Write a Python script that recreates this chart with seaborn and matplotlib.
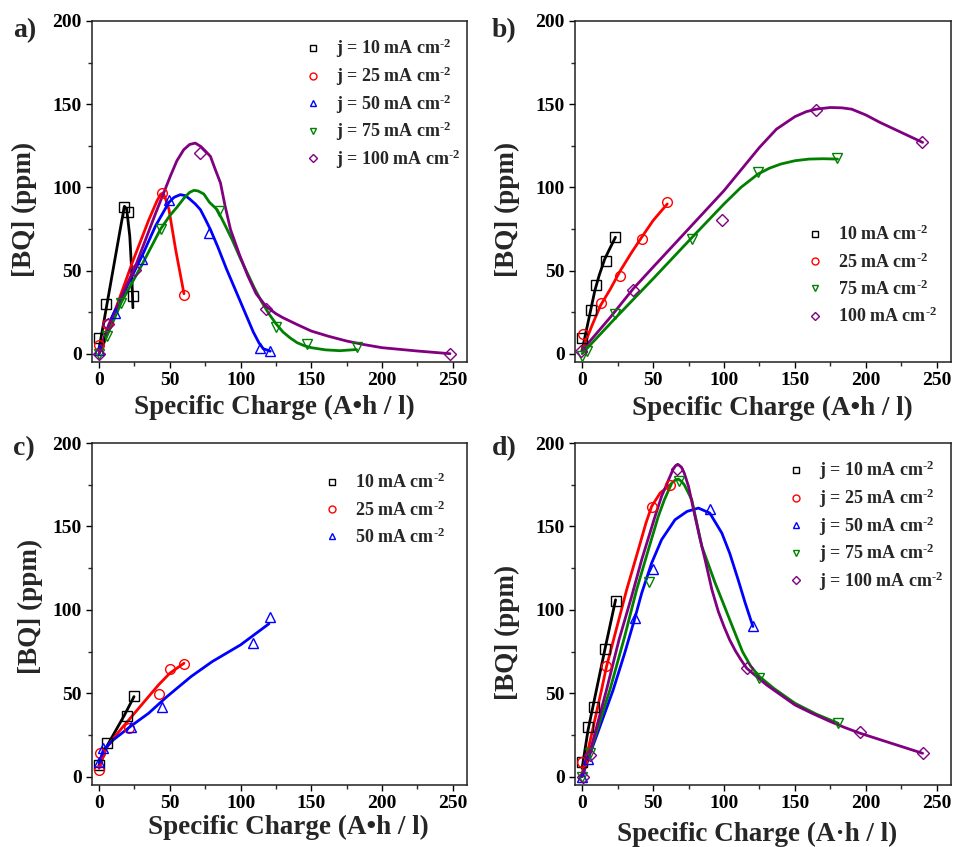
import matplotlib
matplotlib.use("Agg")
import matplotlib.pyplot as plt
from matplotlib.ticker import MultipleLocator
import seaborn as sns
import pandas as pd

# ---------------- data ----------------
# Panel a
A10_x = [0, 5.0, 17.5, 20.6, 23.9]
A10_y = [9.6, 29.6, 88, 85, 34.6]
A10_fx = [0, 5, 10, 15, 17.9, 19.5, 21.7, 23.0, 23.9]
A10_fy = [3, 27, 51, 75, 88.6, 87, 70.6, 50.6, 27.6]
A25_x = [0, 5.4, 44.7, 60]
A25_y = [5, 18, 96.5, 35]
A25_fx = [0, 11.6, 23.4, 35.2, 41, 43.5, 45.2, 47, 49.4, 54.1, 60]
A25_fy = [2, 26.6, 54.6, 80.6, 92, 95.8, 96.6, 93, 86.6, 62.6, 36]
A50_x = [0, 11.6, 30.5, 49.4, 77.8, 114, 120.7]
A50_y = [2, 24.2, 57, 92.6, 72.6, 3.2, 1.6]
A50_fx = [0, 11.6, 20, 30.5, 40, 49.4, 53, 57.4, 61, 64, 68, 71.6, 75, 78.7, 84, 90, 95, 100, 105, 109, 113, 116, 121]
A50_fy = [0, 24, 41, 59, 77, 91, 94, 95.6, 95, 93, 90, 86.6, 81, 74.6, 64, 51, 41, 31, 21, 13, 6.5, 3, 1.5]
A75_x = [0, 5.7, 15.8, 43.5, 84.6, 125, 146.7, 182]
A75_y = [0, 10.6, 30.6, 75, 86, 16, 5.6, 4]
A75_fx = [0, 5.7, 15.8, 30, 43.5, 50, 55, 60, 64, 67.1, 70, 74, 78, 83.4, 88, 94, 100, 105, 110, 115, 120, 125,
          130, 135, 140, 145, 150, 160, 170, 182]
A75_fy = [0, 11, 31, 53, 75, 83, 88, 93.5, 97, 98.2, 97.8, 96, 91, 86.6, 79, 68.6, 57, 48, 39, 31, 24, 18,
          13, 9.5, 6.6, 4.8, 3.6, 2.3, 1.8, 2.5]
A100_x = [0, 6.6, 25.5, 71.6, 118, 248]
A100_y = [0, 17.6, 50.6, 120.6, 26.6, 0]
A100_fx = [0, 6.6, 15, 25.7, 40, 50.3, 55, 59.8, 64, 68, 72, 75.5, 78.7, 82, 85.8, 89, 92.9, 99, 105, 111, 118,
           125, 130, 140, 150, 162, 175, 187, 200, 225, 248]
A100_fy = [0, 17, 33, 52.6, 84.5, 106.6, 116, 122.6, 125.8, 126.6, 124.5, 121.5, 118.6, 111, 102.6, 89, 74.6,
           60, 47, 36, 28.5, 24, 21.6, 17.5, 13.6, 10.5, 7.6, 5.5, 3.6, 1.6, 0]

# Panel b
B10_x = [0, 6.1, 9.6, 16.7, 23.5]
B10_y = [9.6, 26.2, 41, 56, 70.2]
B10_fx = [0, 3, 6, 9, 12, 16, 20, 23.5]
B10_fy = [2, 14, 26, 38, 47, 57, 64, 70]
B25_x = [0.5, 13.4, 26.6, 42.3, 60]
B25_y = [11.6, 30.6, 46.6, 69.2, 91]
B25_fx = [0, 7, 13, 20, 27, 35, 42, 50, 60]
B25_fy = [2, 17, 29, 39, 50, 61, 70, 80, 90]
B75_x = [0, 3.5, 23, 77.6, 124, 179.4]
B75_y = [-1.4, 1.6, 24, 69.2, 109, 117.6]
B75_fx = [0, 23, 50, 77.6, 100, 112, 124, 132, 140, 150, 160, 170, 180]
B75_fy = [0, 21, 45, 70, 90, 100, 108, 111.5, 114, 116, 117, 117.2, 117]
B100_x = [-1, 36, 98.8, 164.6, 239.9]
B100_y = [1.6, 38, 80.6, 146.6, 127]
B100_fx = [0, 20, 36, 50, 75, 100, 125, 137, 150, 158, 165, 175, 183, 190, 200, 210, 225, 240]
B100_fy = [2, 22, 39, 52, 75, 98, 124, 135, 142.5, 145.5, 147, 148, 147.8, 147, 143.5, 139, 133, 127]

# Panel c
C10_x = [0, 5.4, 19.5, 24.7]
C10_y = [7, 20.4, 36.4, 48.4]
C10_fx = [0, 6, 12, 18, 24.7]
C10_fy = [7, 19, 28, 37, 48]
C25_x = [0, 0.7, 21.2, 42.6, 50.1, 60.3]
C25_y = [4, 14.4, 29, 49.6, 64.8, 67.6]
C25_fx = [0, 5, 12, 21, 30, 42, 50, 60]
C25_fy = [5, 17, 25, 34, 43, 55, 62, 68]
C50_x = [0, 2.8, 22.4, 44.7, 109, 120.8]
C50_y = [9, 17, 30, 42, 80, 95.6]
C50_fx = [0, 3, 10, 22, 35, 48, 65, 80, 100, 120]
C50_fy = [8, 16, 22, 30, 38, 48, 60, 69, 79, 91.6]

# Panel d
D10_x = [0, 4.2, 8.5, 16, 23.6]
D10_y = [9, 29.6, 42, 76.4, 105.4]
D10_fx = [0, 4.2, 10.1, 16, 23.6]
D10_fy = [5, 28, 52, 76, 106]
D25_x = [0, 17.2, 49, 62]
D25_y = [9, 66.4, 161.6, 175]
D25_fx = [0, 5, 13.7, 17.2, 24, 31.4, 39.6, 45, 49, 55, 62]
D25_fy = [2, 19, 52, 66, 88, 112, 136, 152, 162, 170, 175]
D50_x = [0, 4.2, 37.2, 49.7, 90.2, 120.4]
D50_y = [0, 10.4, 95, 124.6, 160.4, 90.4]
D50_fx = [0, 4, 10, 21.9, 30, 37.2, 42, 49, 56, 65.5, 74, 82, 90, 98.5, 104, 110, 115, 120.4]
D50_fy = [0, 10, 24, 52, 74, 95, 110, 128, 142, 154, 159, 161, 158, 146, 134, 118, 104, 90]
D75_x = [0, 5.4, 47, 68.3, 125, 180.5]
D75_y = [0, 14, 116.4, 177.4, 59.4, 32]
D75_fx = [0, 5.4, 19.6, 30, 38.4, 46.7, 53.7, 58, 63.2, 66, 68, 70, 72, 77.3, 84.4, 93.8, 98.5, 105, 113, 119,
          125, 135, 150, 165, 180.5]
D75_fy = [0, 14, 52, 84, 112, 136, 156, 166, 176, 178, 178.3, 177, 175, 166, 138, 116, 106, 92, 75, 66,
          60, 53, 44, 37.5, 32]
D100_x = [0.7, 5.4, 67, 116, 195.8, 240.3]
D100_y = [0, 13, 184.4, 65, 26.6, 14.4]
D100_fx = [0, 5, 17.2, 26, 34.9, 42, 51.4, 56, 60, 64, 66, 67.9, 70, 72, 75, 79.6, 83, 86.7, 91.5, 96, 100, 104,
           108, 112, 116, 123, 130, 140, 150, 162, 175, 185, 196, 218, 240]
D100_fy = [0, 13, 52, 82, 108, 130, 156, 168, 176, 184, 186.5, 187, 185.5, 182, 174, 156, 143, 130, 112, 99, 90,
           82, 75.5, 70, 65, 60, 55, 49, 43, 38, 33, 29.5, 26, 20, 14]

COLORS = {"10": "#000000", "25": "#ff0000", "50": "#0000ff", "75": "#008000", "100": "#800080"}
MARKERS = {"10": "s", "25": "o", "50": "^", "75": "v", "100": "D"}

# ---------------- styling ----------------
sns.set_theme(style="ticks")
plt.rcParams.update({
    "font.family": ["Liberation Serif", "DejaVu Serif"],
    "font.weight": "bold",
    "axes.labelweight": "bold",
    "mathtext.fontset": "custom",
    "mathtext.rm": "Liberation Serif:bold",
    "mathtext.it": "Liberation Serif:bold:italic",
    "mathtext.bf": "Liberation Serif:bold",
    "axes.edgecolor": "#202020",
    "axes.linewidth": 1.1,
})

fig = plt.figure(figsize=(9.56, 8.47), dpi=100)
W, H = 956.0, 847.0

def axes_px(l, t, r, b):
    return fig.add_axes([l / W, 1 - b / H, (r - l) / W, (b - t) / H])

ax_a = axes_px(92, 21, 467, 362)
ax_b = axes_px(575, 21, 951, 362)
ax_c = axes_px(92, 443, 467, 785)
ax_d = axes_px(575, 443, 951, 785)

panels = {
    "a": (ax_a, [("10", A10_x, A10_y, A10_fx, A10_fy), ("25", A25_x, A25_y, A25_fx, A25_fy),
                 ("50", A50_x, A50_y, A50_fx, A50_fy), ("75", A75_x, A75_y, A75_fx, A75_fy),
                 ("100", A100_x, A100_y, A100_fx, A100_fy)]),
    "b": (ax_b, [("10", B10_x, B10_y, B10_fx, B10_fy), ("25", B25_x, B25_y, B25_fx, B25_fy),
                 ("75", B75_x, B75_y, B75_fx, B75_fy), ("100", B100_x, B100_y, B100_fx, B100_fy)]),
    "c": (ax_c, [("10", C10_x, C10_y, C10_fx, C10_fy), ("25", C25_x, C25_y, C25_fx, C25_fy),
                 ("50", C50_x, C50_y, C50_fx, C50_fy)]),
    "d": (ax_d, [("10", D10_x, D10_y, D10_fx, D10_fy), ("25", D25_x, D25_y, D25_fx, D25_fy),
                 ("50", D50_x, D50_y, D50_fx, D50_fy), ("75", D75_x, D75_y, D75_fx, D75_fy),
                 ("100", D100_x, D100_y, D100_fx, D100_fy)]),
}

with_j = {"a": True, "b": False, "c": False, "d": True}
legend_anchor = {"a": (304, 37), "b": (806, 225), "c": (323, 473), "d": (787, 459)}
legend_spacing = {"a": 0.23, "b": 0.43, "c": 0.43, "d": 0.23}
xlabels = {"a": "Specific Charge (A\u2022h / l)", "b": "Specific Charge (A\u2022h / l)",
           "c": "Specific Charge (A\u2022h / l)", "d": "Specific Charge (A\u00b7h / l)"}
xlabel_pos = {"a": (0.485, -0.097), "b": (0.525, -0.10), "c": (0.525, -0.088), "d": (0.484, -0.108)}
ylabel_pos = {"a": (-0.147, 0.446), "b": (-0.146, 0.446), "c": (-0.131, 0.523), "d": (-0.146, 0.447)}

for key, (ax, series) in panels.items():
    handles = []
    for name, px, py, fx, fy in series:
        col = COLORS[name]
        fit = pd.DataFrame({"x": fx, "y": fy})
        sns.lineplot(data=fit, x="x", y="y", ax=ax, color=col, lw=2.0,
                     sort=False, estimator=None, zorder=2)
        pts = pd.DataFrame({"x": px, "y": py})
        sns.lineplot(data=pts, x="x", y="y", ax=ax, linestyle="", marker=MARKERS[name],
                     markersize=7 if MARKERS[name] != "D" else 6,
                     markerfacecolor="none", markeredgecolor=col, markeredgewidth=1.0,
                     color=col, sort=False, estimator=None, zorder=3)
        lab = ("j = " if with_j[key] else "") + name + " mA cm" + "$^{\u2010 2}$"
        h = plt.Line2D([], [], linestyle="", marker=MARKERS[name],
                       markersize=5 if MARKERS[name] != "D" else 4.5,
                       markerfacecolor="none", markeredgecolor=col, markeredgewidth=1.0, label=lab)
        handles.append(h)

    ax.set_xlim(-5, 260)
    ax.set_ylim(-5, 200)
    ax.xaxis.set_major_locator(MultipleLocator(50))
    ax.xaxis.set_minor_locator(MultipleLocator(25))
    ax.yaxis.set_major_locator(MultipleLocator(50))
    ax.yaxis.set_minor_locator(MultipleLocator(25))
    ax.tick_params(which="major", direction="out", length=4.5, width=1.0, labelsize=14,
                   colors="black", pad=3)
    ax.tick_params(which="minor", direction="out", length=3.0, width=1.0)
    for lbl in ax.get_xticklabels() + ax.get_yticklabels():
        lbl.set_fontweight("bold")
    ax.set_xlabel(xlabels[key], fontsize=19.5, fontweight="bold")
    ax.set_ylabel("[BQ] (ppm)", fontsize=19.5, fontweight="bold")
    ax.xaxis.set_label_coords(*xlabel_pos[key])
    ax.yaxis.set_label_coords(*ylabel_pos[key])

    lx, ly = legend_anchor[key]
    ax.legend(handles=handles, loc="upper left",
              bbox_to_anchor=(lx / W, 1 - ly / H), bbox_transform=fig.transFigure,
              frameon=False, fontsize=13, handlelength=1.0, handletextpad=0.75,
              labelspacing=legend_spacing[key], borderaxespad=0, borderpad=0)

fig.text(13 / W, 1 - 18 / H, "a)", fontsize=20, fontweight="bold", va="top", ha="left")
fig.text(492 / W, 1 - 18 / H, "b)", fontsize=20, fontweight="bold", va="top", ha="left")
fig.text(13 / W, 1 - 436 / H, "c)", fontsize=20, fontweight="bold", va="top", ha="left")
fig.text(492 / W, 1 - 436 / H, "d)", fontsize=20, fontweight="bold", va="top", ha="left")

fig.savefig("out.png", dpi=100)
